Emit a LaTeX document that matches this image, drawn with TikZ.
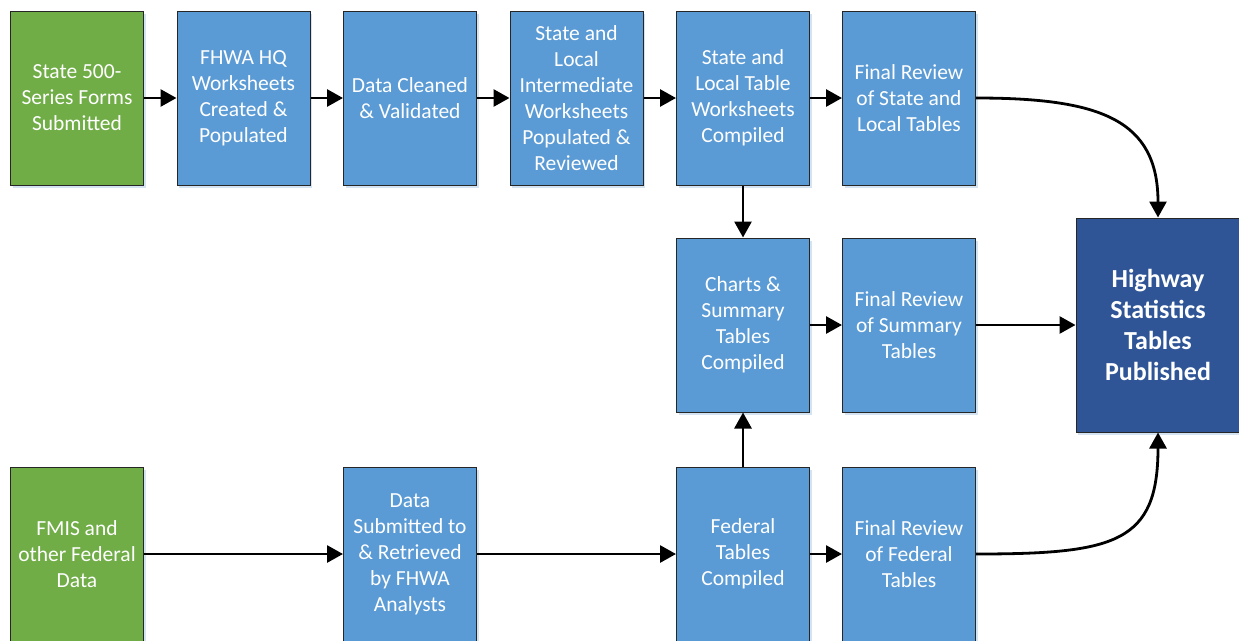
\documentclass[tikz,border=0pt]{standalone}
\usepackage{fontspec}
\setmainfont{Carlito}
\usetikzlibrary{arrows.meta,shadows}
\definecolor{stepgreen}{HTML}{70AD47}
\definecolor{stepblue}{HTML}{5B9BD5}
\definecolor{pubblue}{HTML}{2F5597}
\definecolor{shadowblue}{HTML}{C9DCEF}
\begin{document}
\begin{tikzpicture}[x=1pt,y=-1pt,
  box/.style={draw=black!85, line width=1pt, minimum width=133pt, minimum height=174pt,
    inner sep=0pt, align=center, text=white, fill=stepblue,
    font=\fontsize{21.5}{26}\selectfont,
    drop shadow={shadow xshift=2pt, shadow yshift=-3pt, fill=shadowblue, opacity=0.8}},
  src/.style={box, fill=stepgreen},
  pub/.style={box, fill=pubblue, minimum width=164pt, minimum height=214pt,
    font=\bfseries\fontsize{26}{31}\selectfont},
  arr/.style={-{Triangle[length=16pt,width=17pt]}, line width=2.8pt}
]
\useasboundingbox (0,0) rectangle (1239,640);
\fill[white] (0,0) rectangle (1239,640);

% row 1
\node[src] (s1) at (77,98) {State 500-\\Series Forms\\Submitted};
\node[box] (b2) at (243.5,98) {FHWA HQ\\Worksheets\\Created \&\\Populated};
\node[box] (b3) at (410,98) {Data Cleaned\\\& Validated};
\node[box] (b4) at (576.5,98) {State and\\Local\\Intermediate\\Worksheets\\Populated \&\\Reviewed};
\node[box] (b5) at (743,98) {State and\\Local Table\\Worksheets\\Compiled};
\node[box] (b6) at (909,98) {Final Review\\of State and\\Local Tables};

% row 2
\node[box] (ch) at (743,325) {Charts \&\\Summary\\Tables\\Compiled};
\node[box] (frs) at (909,325) {Final Review\\of Summary\\Tables};
\node[pub] (pub) at (1158,325) {Highway\\Statistics\\Tables\\Published};

% row 3
\node[src] (fm) at (77,554) {FMIS and\\other Federal\\Data};
\node[box] (ds) at (410,554) {Data\\Submitted to\\\& Retrieved\\by FHWA\\Analysts};
\node[box] (ft) at (743,554) {Federal\\Tables\\Compiled};
\node[box] (frf) at (909,554) {Final Review\\of Federal\\Tables};

% connectors
\draw[arr] (s1) -- (b2);
\draw[arr] (b2) -- (b3);
\draw[arr] (b3) -- (b4);
\draw[arr] (b4) -- (b5);
\draw[arr] (b5) -- (b6);
\draw[arr] (b5) -- (ch);
\draw[arr] (ch) -- (frs);
\draw[arr] (frs) -- (pub);
\draw[arr] (fm) -- (ds);
\draw[arr] (ds) -- (ft);
\draw[arr] (ft) -- (frf);
\draw[arr] (ft) -- (ch);
\draw[arr] (b6.east) .. controls +(124,0) and +(0,-98) .. (pub.north);
\draw[arr] (frf.east) .. controls +(140,0) and +(0,110) .. (pub.south);
\end{tikzpicture}
\end{document}
